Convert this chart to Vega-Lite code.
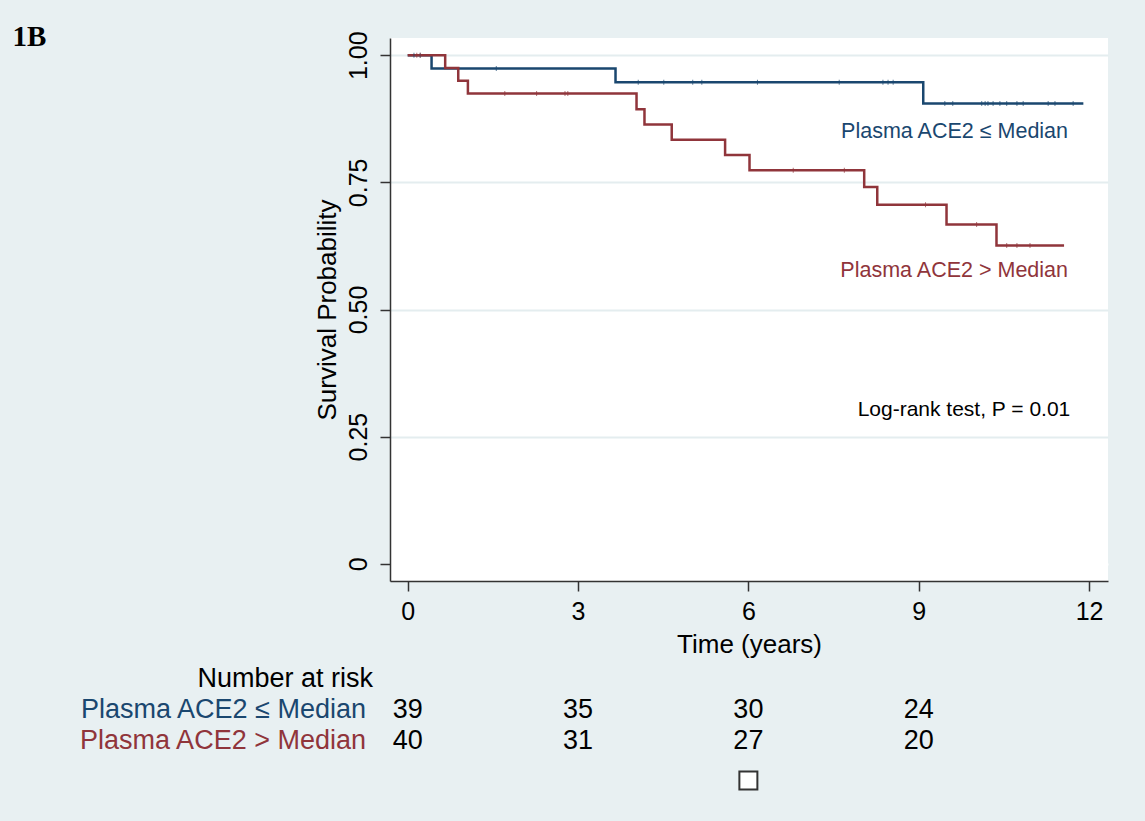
{
  "$schema": "https://vega.github.io/schema/vega-lite/v6.json",
  "autosize": {"type": "none"},
  "padding": {"left": 390, "top": 38, "right": 37, "bottom": 783},
  "background": "#e8f0f2",
  "bounds": "flush",
  "spacing": 82,
  "config": {"view": {"stroke": null}, "font": "Liberation Sans"},
  "datasets": {
    "curves": [
      {"group": "Plasma ACE2 ≤ Median", "t": 0, "s": 1},
      {"group": "Plasma ACE2 ≤ Median", "t": 0.42, "s": 0.974},
      {"group": "Plasma ACE2 ≤ Median", "t": 3.66, "s": 0.947},
      {"group": "Plasma ACE2 ≤ Median", "t": 9.08, "s": 0.905},
      {"group": "Plasma ACE2 ≤ Median", "t": 11.9, "s": 0.905},
      {"group": "Plasma ACE2 > Median", "t": 0, "s": 1},
      {"group": "Plasma ACE2 > Median", "t": 0.66, "s": 0.975},
      {"group": "Plasma ACE2 > Median", "t": 0.89, "s": 0.95},
      {"group": "Plasma ACE2 > Median", "t": 1.06, "s": 0.925},
      {"group": "Plasma ACE2 > Median", "t": 4.03, "s": 0.894},
      {"group": "Plasma ACE2 > Median", "t": 4.17, "s": 0.864},
      {"group": "Plasma ACE2 > Median", "t": 4.65, "s": 0.834},
      {"group": "Plasma ACE2 > Median", "t": 5.59, "s": 0.804},
      {"group": "Plasma ACE2 > Median", "t": 6.02, "s": 0.774},
      {"group": "Plasma ACE2 > Median", "t": 8.04, "s": 0.741},
      {"group": "Plasma ACE2 > Median", "t": 8.27, "s": 0.706},
      {"group": "Plasma ACE2 > Median", "t": 9.49, "s": 0.667},
      {"group": "Plasma ACE2 > Median", "t": 10.37, "s": 0.626},
      {"group": "Plasma ACE2 > Median", "t": 11.56, "s": 0.626}
    ],
    "censored": [
      {"group": "Plasma ACE2 ≤ Median", "t": 0.11, "s": 1},
      {"group": "Plasma ACE2 ≤ Median", "t": 0.22, "s": 1},
      {"group": "Plasma ACE2 ≤ Median", "t": 1.56, "s": 0.974},
      {"group": "Plasma ACE2 ≤ Median", "t": 4.06, "s": 0.947},
      {"group": "Plasma ACE2 ≤ Median", "t": 4.51, "s": 0.947},
      {"group": "Plasma ACE2 ≤ Median", "t": 5.02, "s": 0.947},
      {"group": "Plasma ACE2 ≤ Median", "t": 5.18, "s": 0.947},
      {"group": "Plasma ACE2 ≤ Median", "t": 6.16, "s": 0.947},
      {"group": "Plasma ACE2 ≤ Median", "t": 7.6, "s": 0.947},
      {"group": "Plasma ACE2 ≤ Median", "t": 8.37, "s": 0.947},
      {"group": "Plasma ACE2 ≤ Median", "t": 8.46, "s": 0.947},
      {"group": "Plasma ACE2 ≤ Median", "t": 8.55, "s": 0.947},
      {"group": "Plasma ACE2 ≤ Median", "t": 9.46, "s": 0.905},
      {"group": "Plasma ACE2 ≤ Median", "t": 9.6, "s": 0.905},
      {"group": "Plasma ACE2 ≤ Median", "t": 10.11, "s": 0.905},
      {"group": "Plasma ACE2 ≤ Median", "t": 10.17, "s": 0.905},
      {"group": "Plasma ACE2 ≤ Median", "t": 10.22, "s": 0.905},
      {"group": "Plasma ACE2 ≤ Median", "t": 10.31, "s": 0.905},
      {"group": "Plasma ACE2 ≤ Median", "t": 10.43, "s": 0.905},
      {"group": "Plasma ACE2 ≤ Median", "t": 10.55, "s": 0.905},
      {"group": "Plasma ACE2 ≤ Median", "t": 10.73, "s": 0.905},
      {"group": "Plasma ACE2 ≤ Median", "t": 10.84, "s": 0.905},
      {"group": "Plasma ACE2 ≤ Median", "t": 11.28, "s": 0.905},
      {"group": "Plasma ACE2 ≤ Median", "t": 11.4, "s": 0.905},
      {"group": "Plasma ACE2 ≤ Median", "t": 11.72, "s": 0.905},
      {"group": "Plasma ACE2 > Median", "t": 0.16, "s": 1},
      {"group": "Plasma ACE2 > Median", "t": 0.22, "s": 1},
      {"group": "Plasma ACE2 > Median", "t": 1.71, "s": 0.925},
      {"group": "Plasma ACE2 > Median", "t": 2.27, "s": 0.925},
      {"group": "Plasma ACE2 > Median", "t": 2.77, "s": 0.925},
      {"group": "Plasma ACE2 > Median", "t": 2.82, "s": 0.925},
      {"group": "Plasma ACE2 > Median", "t": 6.79, "s": 0.774},
      {"group": "Plasma ACE2 > Median", "t": 7.69, "s": 0.774},
      {"group": "Plasma ACE2 > Median", "t": 9.12, "s": 0.706},
      {"group": "Plasma ACE2 > Median", "t": 10.02, "s": 0.667},
      {"group": "Plasma ACE2 > Median", "t": 10.55, "s": 0.626},
      {"group": "Plasma ACE2 > Median", "t": 10.73, "s": 0.626},
      {"group": "Plasma ACE2 > Median", "t": 10.96, "s": 0.626}
    ],
    "risk": [
      {"row": "Plasma ACE2 ≤ Median", "t": 0, "n": 39},
      {"row": "Plasma ACE2 ≤ Median", "t": 3, "n": 35},
      {"row": "Plasma ACE2 ≤ Median", "t": 6, "n": 30},
      {"row": "Plasma ACE2 ≤ Median", "t": 9, "n": 24},
      {"row": "Plasma ACE2 > Median", "t": 0, "n": 40},
      {"row": "Plasma ACE2 > Median", "t": 3, "n": 31},
      {"row": "Plasma ACE2 > Median", "t": 6, "n": 27},
      {"row": "Plasma ACE2 > Median", "t": 9, "n": 20}
    ],
    "groups": [
      {"row": "Plasma ACE2 ≤ Median"},
      {"row": "Plasma ACE2 > Median"}
    ],
    "one": [{"k": 1}]
  },
  "vconcat": [
    {
      "width": 718,
      "height": 543,
      "view": {"fill": "white", "stroke": null},
      "layer": [
        {
          "data": {"name": "curves"},
          "mark": {"type": "line", "interpolate": "step-after", "strokeWidth": 2.5},
          "encoding": {
            "x": {
              "field": "t", "type": "quantitative",
              "scale": {"domain": [-0.312, 12.334], "nice": false, "zero": false},
              "axis": {
                "title": "Time (years)", "values": [0, 3, 6, 9, 12], "format": "d",
                "grid": false, "labelFontSize": 25, "titleFontSize": 26,
                "titleFontWeight": "normal", "titleColor": "black", "labelColor": "black",
                "tickSize": 10, "tickWidth": 1.5, "domainWidth": 1.5,
                "tickColor": "#333", "domainColor": "#333",
                "labelPadding": 8, "titlePadding": 7
              }
            },
            "y": {
              "field": "s", "type": "quantitative",
              "scale": {"domain": [-0.034, 1.034], "nice": false, "zero": false},
              "axis": {
                "title": "Survival Probability", "values": [0, 0.25, 0.5, 0.75, 1],
                "labelExpr": "datum.value === 0 ? '0' : format(datum.value, '.2f')",
                "labelAngle": -90, "labelAlign": "center", "labelBaseline": "bottom",
                "labelFontSize": 25, "titleFontSize": 26, "titleFontWeight": "normal",
                "titleColor": "black", "labelColor": "black",
                "tickSize": 10, "tickWidth": 1.5, "domainWidth": 1.5,
                "tickColor": "#333", "domainColor": "#333",
                "labelPadding": 9, "titlePadding": 6,
                "grid": true, "gridWidth": 2,
                "gridColor": {"condition": {"test": "datum.value === 0", "value": "white"}, "value": "#e4edef"}
              }
            },
            "color": {
              "field": "group", "type": "nominal",
              "scale": {"domain": ["Plasma ACE2 ≤ Median", "Plasma ACE2 > Median"], "range": ["#1a476f", "#90353b"]},
              "legend": null
            }
          }
        },
        {
          "data": {"name": "censored"},
          "mark": {"type": "tick", "orient": "vertical", "size": 5, "thickness": 1},
          "encoding": {
            "x": {"field": "t", "type": "quantitative"},
            "y": {"field": "s", "type": "quantitative"},
            "color": {"field": "group", "type": "nominal"}
          }
        },
        {
          "data": {"name": "one"},
          "mark": {"type": "text", "align": "right", "baseline": "middle", "fontSize": 21.5, "color": "#1a476f"},
          "encoding": {"x": {"datum": 11.63, "type": "quantitative"}, "y": {"datum": 0.85, "type": "quantitative"}, "text": {"value": "Plasma ACE2 ≤ Median"}}
        },
        {
          "data": {"name": "one"},
          "mark": {"type": "text", "align": "right", "baseline": "middle", "fontSize": 21.5, "color": "#90353b"},
          "encoding": {"x": {"datum": 11.63, "type": "quantitative"}, "y": {"datum": 0.576, "type": "quantitative"}, "text": {"value": "Plasma ACE2 > Median"}}
        },
        {
          "data": {"name": "one"},
          "mark": {"type": "text", "align": "right", "baseline": "middle", "fontSize": 21, "color": "black"},
          "encoding": {"x": {"datum": 11.67, "type": "quantitative"}, "y": {"datum": 0.3025, "type": "quantitative"}, "text": {"value": "Log-rank test, P = 0.01"}}
        },
        {
          "data": {"name": "one"},
          "mark": {"type": "text", "align": "left", "baseline": "alphabetic", "fontSize": 29, "font": "Liberation Serif", "fontWeight": "bold", "color": "black"},
          "encoding": {"x": {"datum": -6.96, "type": "quantitative"}, "y": {"datum": 1.018, "type": "quantitative"}, "text": {"value": "1B"}}
        }
      ]
    },
    {
      "width": 718,
      "height": 124,
      "layer": [
        {
          "data": {"name": "risk"},
          "mark": {"type": "text", "align": "center", "baseline": "middle", "fontSize": 27, "color": "black"},
          "encoding": {
            "x": {
              "field": "t", "type": "quantitative",
              "scale": {"domain": [-0.312, 12.334], "nice": false, "zero": false},
              "axis": null
            },
            "y": {
              "field": "row", "type": "nominal",
              "scale": {"type": "point", "domain": ["Number at risk", "Plasma ACE2 ≤ Median", "Plasma ACE2 > Median", "note"], "padding": 0.5},
              "axis": null
            },
            "text": {"field": "n", "type": "quantitative"}
          }
        },
        {
          "data": {"name": "groups"},
          "mark": {"type": "text", "align": "right", "baseline": "middle", "fontSize": 27},
          "encoding": {
            "x": {"datum": -0.735, "type": "quantitative"},
            "y": {"field": "row", "type": "nominal"},
            "text": {"field": "row", "type": "nominal"},
            "color": {
              "field": "row", "type": "nominal",
              "scale": {"domain": ["Plasma ACE2 ≤ Median", "Plasma ACE2 > Median"], "range": ["#1a476f", "#90353b"]},
              "legend": null
            }
          }
        },
        {
          "data": {"name": "one"},
          "mark": {"type": "text", "align": "right", "baseline": "middle", "fontSize": 27, "color": "black"},
          "encoding": {"x": {"datum": -0.611, "type": "quantitative"}, "y": {"datum": "Number at risk", "type": "nominal"}, "text": {"value": "Number at risk"}}
        },
        {
          "data": {"name": "one"},
          "mark": {"type": "point", "shape": "square", "size": 324, "filled": false, "fill": "white", "stroke": "#333", "strokeWidth": 2, "yOffset": 9, "opacity": 1},
          "encoding": {"x": {"datum": 6, "type": "quantitative"}, "y": {"datum": "note", "type": "nominal"}}
        }
      ]
    }
  ]
}
